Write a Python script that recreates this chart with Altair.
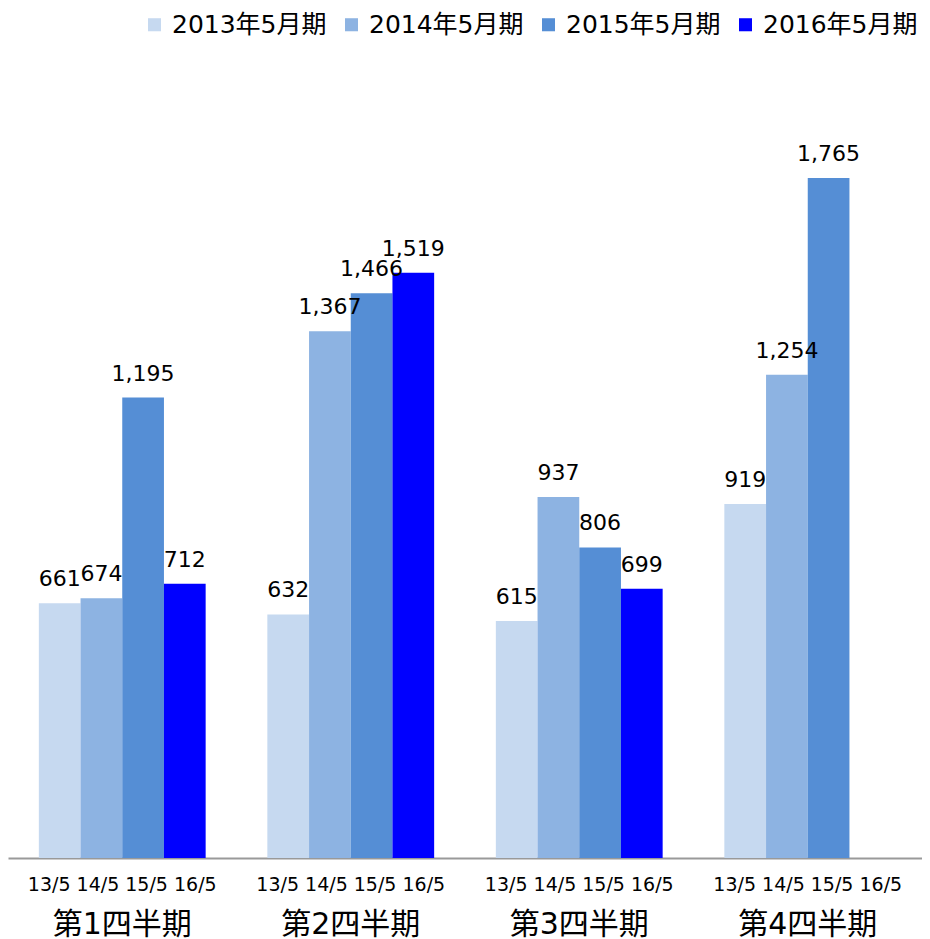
import altair as alt
import pandas as pd

quarters = ["第1四半期", "第2四半期", "第3四半期", "第4四半期"]
years = ["2013年5月期", "2014年5月期", "2015年5月期", "2016年5月期"]
short = ["13/5", "14/5", "15/5", "16/5"]
colors = ["#C6D9F0", "#8DB3E2", "#558ED5", "#0000FF"]

v2013 = [661, 632, 615, 919]
v2014 = [674, 1367, 937, 1254]
v2015 = [1195, 1466, 806, 1765]
v2016 = [712, 1519, 699, None]

series = [v2013, v2014, v2015, v2016]
rows = []
for yi, (yr, vals) in enumerate(zip(years, series)):
    for qi, q in enumerate(quarters):
        v = vals[qi]
        rows.append({
            "quarter": q,
            "year": yr,
            "value": v,
            "label": "" if v is None else f"{v:,}",
        })
df = pd.DataFrame(rows)

sub_df = pd.DataFrame({"quarter": quarters, "sub": [" ".join(short)] * len(quarters)})

W, H = 914, 850

x = alt.X("quarter:N", sort=quarters,
          scale=alt.Scale(domain=quarters, paddingInner=0.27, paddingOuter=0.135),
          axis=alt.Axis(title=None, ticks=False, labelAngle=0, labelFontSize=30,
                        labelFont="DejaVu Sans, Noto Sans CJK JP", labelColor="#000000",
                        labelPadding=51, domainColor="#999999", domainWidth=2))
xo = alt.XOffset("year:N", sort=years, scale=alt.Scale(domain=years, paddingInner=0, paddingOuter=0))
y = alt.Y("value:Q", scale=alt.Scale(domain=[0, 2206], nice=False, zero=True),
          axis=None)

base = alt.Chart(df)

bars = base.mark_bar().encode(
    x=x, xOffset=xo, y=y,
    color=alt.Color("year:N", sort=years,
                    scale=alt.Scale(domain=years, range=colors),
                    legend=alt.Legend(title=None, orient="top-right", direction="horizontal",
                                      symbolType="square", symbolSize=170, symbolStrokeWidth=0,
                                      labelFontSize=25, labelFont="DejaVu Sans, Noto Sans CJK JP",
                                      labelColor="#000000", columnPadding=12, labelLimit=400,
                                      offset=4, labelOffset=5)),
)

labels = base.mark_text(fontSize=22, font="DejaVu Sans", baseline="middle", dy=-24,
                        color="#000000").encode(
    x=x, xOffset=xo, y=y, text="label:N"
)

sub = alt.Chart(sub_df).mark_text(fontSize=19, font="DejaVu Sans",
                                  baseline="middle", color="#000000").encode(
    x=x, y=alt.value(H + 27), text="sub:N"
)

chart = alt.layer(bars, labels, sub).properties(
    width=W, height=H, padding={"left": 0, "top": 0, "right": 0, "bottom": 0}
).configure_view(stroke=None).configure_scale(bandPaddingInner=0)

chart.save("out.html", embed_options={"renderer": "svg", "actions": False})
